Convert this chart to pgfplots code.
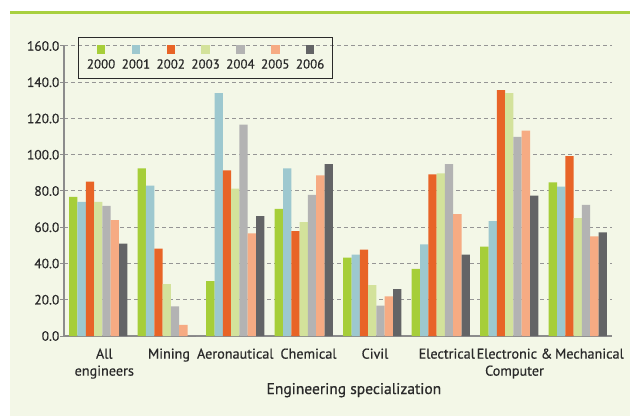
\documentclass[border=0pt]{standalone}
\usepackage{pgfplots}
\pgfplotsset{compat=1.18}
\usepackage{fontspec}
\setmainfont{PT Sans}[FakeBold=0.6]
\definecolor{bg}{HTML}{F3F7E7}
\definecolor{topgreen}{HTML}{A8D03F}
\definecolor{c2000}{HTML}{A6CE39}
\definecolor{c2001}{HTML}{9DC8CF}
\definecolor{c2002}{HTML}{E86427}
\definecolor{c2003}{HTML}{D3E29B}
\definecolor{c2004}{HTML}{B3B3B3}
\definecolor{c2005}{HTML}{F6AB83}
\definecolor{c2006}{HTML}{636466}
\definecolor{axgray}{HTML}{8C8C8C}
\definecolor{gridgray}{HTML}{959595}
\definecolor{txt}{HTML}{2A2A2A}
\begin{document}
\begin{tikzpicture}[x=1pt,y=1pt]
\useasboundingbox (0,0) rectangle (630,418);
\fill[bg] (10,2) rectangle (630,407);
\fill[topgreen] (10,403.5) rectangle (630,407);
\begin{axis}[
  at={(64pt,82pt)}, anchor=south west,
  scale only axis, width=548pt, height=290pt,
  xmin=-0.5, xmax=7.5, ymin=0, ymax=160,
  ybar=0pt, bar width=8.3pt,
  axis x line*=bottom, axis y line*=left,
  axis line style={axgray, line width=1.6pt, -},
  x axis line style={line width=2pt},
  ytick={0,20,...,160},
  /pgf/number format/assume math mode=true,
  yticklabel style={/pgf/number format/fixed, /pgf/number format/fixed zerofill, /pgf/number format/precision=1, font=\fontsize{13.5}{15}\selectfont, text=txt, inner xsep=0.5pt},
  ytick style={axgray, line width=1pt},
  tick align=outside, major tick length=4pt,
  ymajorgrids,
  grid style={gridgray, line width=1pt, dash pattern=on 4pt off 3pt},
  xtick={0.088,1.033,2,3.069,4.04,5.088,6.077,7.17},
  xticklabels={{All\\engineers}, Mining, Aeronautical, Chemical, Civil, Electrical, {Electronic \&\\Computer}, Mechanical},
  xticklabel style={align=center, font=\fontsize{14.2}{17}\selectfont, text=txt, yshift=-5pt},
  xtick style={draw=none},
  extra x ticks={-0.5,0.5,1.5,2.5,3.5,4.5,5.5,6.5,7.5},
  extra x tick labels={},
  extra x tick style={grid=none, tick style={draw=axgray, line width=1pt}, major tick length=6pt},
  xlabel={Engineering specialization},
  xlabel style={at={(axis description cs:0.529,0)}, anchor=base, yshift=-58pt, font=\fontsize{15.5}{18}\selectfont, text=txt},
  legend columns=7,
  legend image code/.code={},
  legend style={at={(0.0255,1.031)}, anchor=north west, draw=txt, fill=none, line width=0.9pt,
    font=\fontsize{13}{15}\selectfont, text=txt, inner xsep=8.5pt, inner ysep=8pt,
    nodes={inner sep=0pt},
    /tikz/every even column/.append style={column sep=6.5pt}},
]
\addplot[fill=c2000, draw=none] coordinates {(0,76.8) (1,92.5) (2,30.3) (3,70.1) (4,43.2) (5,37.0) (6,49.3) (7,84.7)};
\addlegendentry{\shortstack{\textcolor{c2000}{\rule{8.5pt}{8.5pt}}\\[2.3pt]2000}}
\addplot[fill=c2001, draw=none] coordinates {(0,74.0) (1,83.0) (2,134.0) (3,92.5) (4,44.9) (5,50.5) (6,63.4) (7,82.4)};
\addlegendentry{\shortstack{\textcolor{c2001}{\rule{8.5pt}{8.5pt}}\\[2.3pt]2001}}
\addplot[fill=c2002, draw=none] coordinates {(0,85.2) (1,48.2) (2,91.4) (3,57.8) (4,47.7) (5,89.2) (6,135.7) (7,99.3)};
\addlegendentry{\shortstack{\textcolor{c2002}{\rule{8.5pt}{8.5pt}}\\[2.3pt]2002}}
\addplot[fill=c2003, draw=none] coordinates {(0,74.0) (1,28.6) (2,81.3) (3,62.8) (4,28.0) (5,89.7) (6,134.0) (7,65.0)};
\addlegendentry{\shortstack{\textcolor{c2003}{\rule{8.5pt}{8.5pt}}\\[2.3pt]2003}}
\addplot[fill=c2004, draw=none] coordinates {(0,71.8) (1,16.3) (2,116.6) (3,77.9) (4,16.8) (5,94.8) (6,109.9) (7,72.3)};
\addlegendentry{\shortstack{\textcolor{c2004}{\rule{8.5pt}{8.5pt}}\\[2.3pt]2004}}
\addplot[fill=c2005, draw=none] coordinates {(0,63.9) (1,6.2) (2,56.6) (3,88.6) (4,21.9) (5,67.3) (6,113.3) (7,55.0)};
\addlegendentry{\shortstack{\textcolor{c2005}{\rule{8.5pt}{8.5pt}}\\[2.3pt]2005}}
\addplot[fill=c2006, draw=none] coordinates {(0,51.0) (1,0) (2,66.2) (3,94.8) (4,25.8) (5,44.9) (6,77.4) (7,57.2)};
\addlegendentry{\shortstack{\textcolor{c2006}{\rule{8.5pt}{8.5pt}}\\[2.3pt]2006}}
\end{axis}
\end{tikzpicture}
\end{document}
